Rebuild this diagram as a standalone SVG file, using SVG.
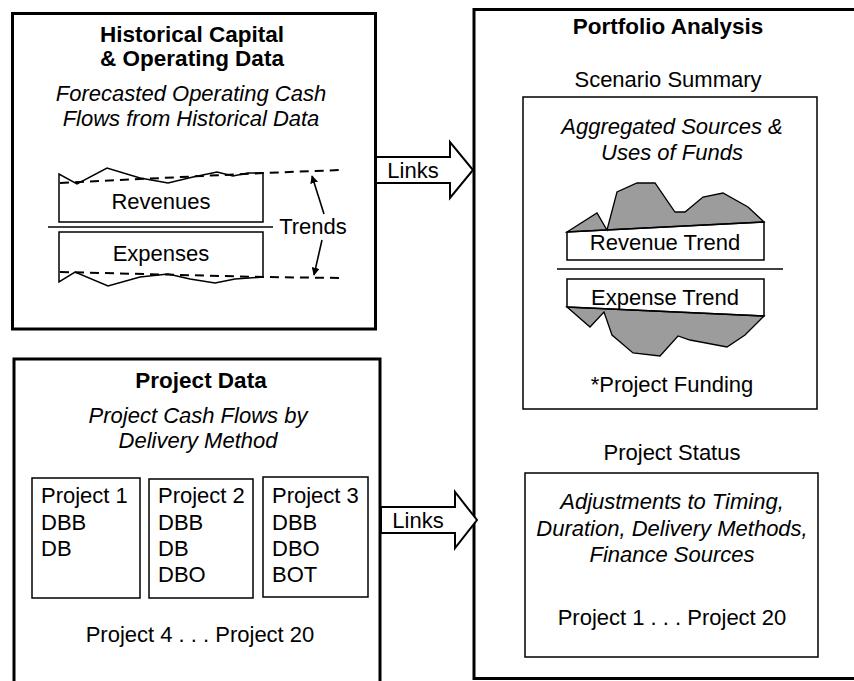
<svg xmlns="http://www.w3.org/2000/svg" width="854" height="681" viewBox="0 0 854 681">
<style>
text{font-family:"Liberation Sans",Arial,sans-serif;font-size:22px;fill:#000}
.b{font-weight:bold;font-size:22.5px}
.i{font-style:italic}
.m{text-anchor:middle}
.outer{fill:#fff;stroke:#000;stroke-width:3}
.inner{fill:#fff;stroke:#000;stroke-width:1.5}
.ln{fill:none;stroke:#000;stroke-width:1.5}
.dash{fill:none;stroke:#000;stroke-width:2;stroke-dasharray:9 6}
.blob{fill:#9c9c9c;stroke:#000;stroke-width:1.3}
.blk{fill:#fff;stroke:#000;stroke-width:2;stroke-linejoin:miter}
</style>
<defs>
<marker id="ah" viewBox="0 0 10 10" refX="9" refY="5" markerWidth="8" markerHeight="8" orient="auto" markerUnits="userSpaceOnUse">
<path d="M0,0 L10,5 L0,10 z" fill="#000"/>
</marker>
</defs>
<rect width="854" height="681" fill="#fff"/>

<g id="historical">
<rect class="outer" x="12.5" y="13.5" width="363" height="315.5"/>
<text class="b m" x="192" y="42">Historical Capital</text>
<text class="b m" x="192" y="66">&amp; Operating Data</text>
<text class="i m" x="191" y="101">Forecasted Operating Cash</text>
<text class="i m" x="191" y="126">Flows from Historical Data</text>
<path class="ln" d="M59,222 L59,174 L77,184 L107,168 L140,178 L168,183 L193,177 L217,172 L233,176 L248,173 L263,173 L263,222 Z" fill="#fff"/>
<text class="m" x="161" y="209">Revenues</text>
<line class="ln" x1="48" y1="227" x2="273" y2="227"/>
<path class="ln" d="M59,232 L263,232 L263,277 L235,279 L215,283 L190,279 L168,274 L140,277 L108,286 L75,272 L59,282 Z"/>
<text class="m" x="161" y="261">Expenses</text>
<path class="dash" d="M60,183 L263,173 L340,170"/>
<path class="dash" d="M60,272 L263,277 L343,278"/>
<text class="m" x="313" y="234">Trends</text>
<line x1="324" y1="214" x2="312" y2="176" stroke="#000" stroke-width="1.6" marker-end="url(#ah)"/>
<line x1="322" y1="240" x2="314" y2="275" stroke="#000" stroke-width="1.6" marker-end="url(#ah)"/>
</g>

<g id="project-data">
<rect class="outer" x="14" y="359" width="366" height="340"/>
<text class="b m" x="201" y="388">Project Data</text>
<text class="i m" x="198" y="423">Project Cash Flows by</text>
<text class="i m" x="198" y="448">Delivery Method</text>
<rect class="inner" x="32" y="478" width="108" height="120"/>
<text x="41" y="503">Project 1</text>
<text x="41" y="530">DBB</text>
<text x="41" y="556">DB</text>
<rect class="inner" x="149" y="479" width="104" height="119"/>
<text x="158" y="503">Project 2</text>
<text x="158" y="530">DBB</text>
<text x="158" y="556">DB</text>
<text x="158" y="582">DBO</text>
<rect class="inner" x="263" y="477" width="105" height="120"/>
<text x="272" y="503">Project 3</text>
<text x="272" y="530">DBB</text>
<text x="272" y="556">DBO</text>
<text x="272" y="582">BOT</text>
<text class="m" x="200" y="642">Project 4 . . . Project 20</text>
</g>

<g id="portfolio">
<rect class="outer" x="474" y="9.5" width="400" height="669"/>
<text class="b m" x="668" y="34">Portfolio Analysis</text>
<text class="m" x="668" y="87">Scenario Summary</text>
<g id="scenario-summary">
<rect class="inner" x="523" y="97" width="294" height="312"/>
<text class="i m" x="672" y="134">Aggregated Sources &amp;</text>
<text class="i m" x="672" y="160">Uses of Funds</text>
<path class="blob" d="M567,232 L597,213 L607,230 L617,192 L637,183 L655,183 L675,212 L685,212 L703,197 L723,193 L748,207 L764,222 Z"/>
<path class="ln" d="M567,232 L764,222 L764,260 L567,260 Z" fill="#fff"/>
<text class="m" x="665" y="250">Revenue Trend</text>
<line class="ln" x1="557" y1="269" x2="783" y2="269"/>
<path class="blob" d="M567,307 L590,327 L604,312 L612,335 L633,353 L660,356 L678,336 L690,340 L727,347 L745,335 L764,316 Z"/>
<path class="ln" d="M567,279 L764,279 L764,316 L567,307 Z" fill="#fff"/>
<text class="m" x="665" y="305">Expense Trend</text>
<text class="m" x="672" y="392">*Project Funding</text>
</g>
<text class="m" x="672" y="460">Project Status</text>
<g id="project-status">
<rect class="inner" x="525" y="473" width="293" height="184"/>
<text class="i m" x="672" y="509">Adjustments to Timing,</text>
<text class="i m" x="672" y="536">Duration, Delivery Methods,</text>
<text class="i m" x="672" y="562">Finance Sources</text>
<text class="m" x="672" y="625">Project 1 . . . Project 20</text>
</g>
</g>

<g id="connectors">
<g id="links-top">
<path class="blk" d="M376,157 L450,157 L450,142 L473,170 L450,198 L450,183 L376,183 Z"/>
<text class="m" x="413" y="178">Links</text>
</g>
<g id="links-bottom">
<path class="blk" d="M381,507 L455,507 L455,492 L477,520 L455,548 L455,533 L381,533 Z"/>
<text class="m" x="418" y="528">Links</text>
</g>
</g>
</svg>
